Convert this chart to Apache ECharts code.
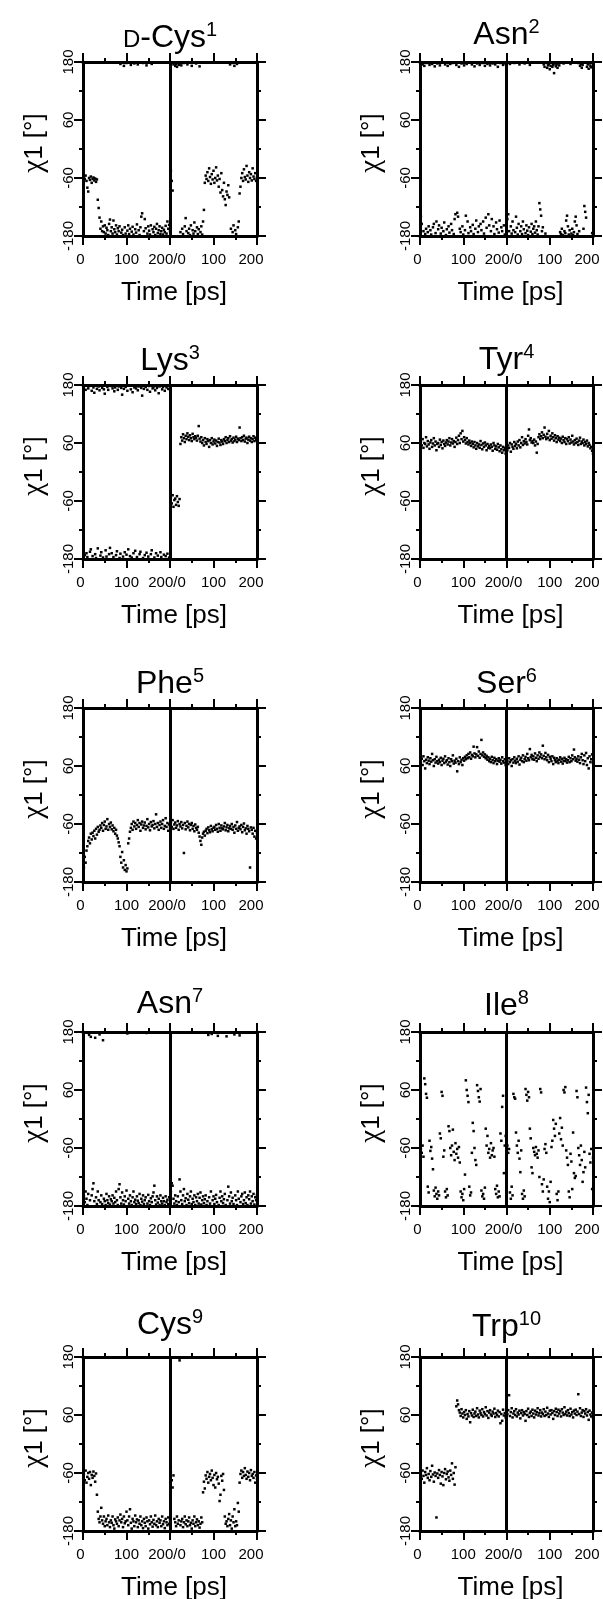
<!DOCTYPE html>
<html><head><meta charset="utf-8">
<script src="https://cdn.jsdelivr.net/npm/echarts@6/dist/echarts.min.js"></script>
<style>html,body{margin:0;padding:0;background:#fff}#chart{width:603px;height:1599px}</style>
</head><body><div id="chart"></div>
<script>
// ---------- data: chi1 dihedral (deg) sampled every 2 ps, two 200 ps runs per residue ----------
const timeStep = 2;
const runLength = 200;
const segmentBoundary = 200;
const xTickLabels = ['0', '100', '200/0', '100', '200'];
const residueNames = ['D-Cys', 'Asn', 'Lys', 'Tyr', 'Phe', 'Ser', 'Asn', 'Ile', 'Cys', 'Trp'];
const residueNumbers = ['1', '2', '3', '4', '5', '6', '7', '8', '9', '10'];

const dCys1_run1 = [-58,-62,-55,-66,-80,-88,-60,-64,-57,-70,-62,-59,-65,-61,-68,-63,-105,-122,-142,
-165,-150,-170,-160,-172,-158,-175,-163,-168,-178,-155,-146,-170,-162,-175,-148,-166,-172,-158,-177,
-164,-170,-160,176,-173,-167,-178,172,-162,-175,178,-169,-158,-176,-165,174,-171,-161,-177,177,
-166,-173,-156,175,-168,-178,-162,-140,-133,178,-170,-145,-164,173,-175,-160,-169,-177,-158,176,
-166,-172,-161,-178,-165,-155,-174,-168,-160,-176,-170,-163,-177,-167,-172,-159,-175,-150,-165,-157,-170];
const dCys1_run2 = [-45,-66,-86,175,178,172,176,170,179,174,177,-172,173,-165,-176,178,-160,-143,-170,175,
-174,-165,-178,-158,172,-168,-175,-152,-170,177,-162,-176,-166,171,-172,-160,-177,-150,-126,-70,
-55,-62,-48,-66,-40,-58,-72,-52,-63,-45,-70,-60,-38,-65,-55,-78,-62,-90,-50,-85,
-98,-70,-104,-116,-88,-95,-75,-100,175,-165,178,-172,-158,172,-168,-176,176,-162,-150,-92,
-78,-60,-50,-66,-42,-58,-63,-35,-55,-68,-48,-60,-52,-65,-40,-57,-62,-50,-66,-58];

const asn2_run1 = [-140,-155,175,-170,172,-176,-165,178,-172,-160,174,-168,-177,176,-162,-155,171,-174,-150,177,
-166,-158,173,-175,-163,179,-170,-152,175,-178,-166,172,-160,-173,176,-155,-168,178,-176,-145,
-135,174,-132,-140,170,-165,-172,177,-160,-177,173,-168,-138,176,-150,-174,179,-162,-170,175,
-157,-176,171,-165,-148,177,-172,-160,174,-155,-168,178,-150,-175,172,-142,-163,176,-135,-158,
173,-170,-145,177,-160,-176,175,-152,-166,170,-173,-148,178,-162,-170,174,-158,-177,176,-165];
const asn2_run2 = [-145,-135,-170,176,-160,-175,-150,-168,178,-172,-140,-163,-177,-155,175,-170,-160,-176,-150,-166,
177,-174,-158,-169,-178,-162,174,-171,-155,-176,-165,-160,-173,-150,-168,-177,-160,-112,-125,-138,
-170,-162,175,170,-175,178,168,173,176,165,172,179,170,174,157,177,171,175,168,178,
173,-172,-176,-165,-178,177,-170,-174,-148,-138,-160,-177,-168,176,-175,-165,-178,-172,-150,-140,
-158,-176,178,-170,172,176,168,174,-165,-118,-130,-142,170,175,166,177,172,169,-174,175];

const lys3_run1 = [176,-172,170,-168,-176,173,178,-165,-160,168,-174,175,164,-170,-178,172,-158,177,169,-173,
-166,174,-177,171,162,-162,-175,176,170,-170,-157,178,-168,173,-176,167,175,-172,-164,170,
177,-178,-169,174,160,-175,172,-166,176,-171,168,-160,179,-174,171,-177,165,-168,175,-163,
173,-176,169,177,-170,-165,174,158,-178,172,-172,176,-167,170,-175,178,166,-170,-162,173,
175,-177,169,-168,174,-173,163,177,-166,-176,171,176,-171,168,-174,175,-169,172,-177,170];
const lys3_run2 = [-52,-65,-48,-72,-58,-55,-68,-50,-62,-70,-56,58,72,65,78,70,62,75,68,80,
73,66,76,70,64,79,72,68,74,71,65,75,95,69,63,72,60,66,55,70,
62,58,68,64,52,66,60,70,57,63,67,59,65,54,62,69,61,56,66,63,
58,68,64,72,60,66,70,62,74,65,68,61,71,64,67,73,62,69,66,92,
70,64,72,66,75,63,69,71,60,67,73,65,70,62,68,74,64,71,66,69];

const tyr4_run1 = [62,55,68,50,60,58,72,53,64,57,48,61,66,52,59,70,55,63,45,58,
60,52,67,56,62,49,65,58,54,61,66,57,63,70,55,61,68,59,64,52,
62,71,58,66,75,60,80,68,85,63,72,66,59,70,62,57,65,60,54,63,
58,51,62,55,48,60,53,57,50,64,56,47,59,52,61,55,45,58,50,54,
49,57,52,44,60,55,48,53,46,58,51,43,55,47,40,52,45,50,38,48];
const tyr4_run2 = [45,55,50,60,42,57,52,48,62,54,58,49,63,55,66,51,60,72,56,64,
59,68,62,57,75,88,66,70,61,64,60,67,55,63,40,58,72,78,68,74,
82,70,77,92,73,68,79,71,85,66,75,69,80,72,65,76,70,62,74,67,
71,64,69,60,73,66,62,70,58,68,64,72,59,67,61,75,63,57,66,60,
69,62,56,65,71,58,63,60,67,55,62,58,65,53,60,56,49,52,44,38];

const phe5_run1 = [-150,-128,-140,-115,-106,-95,-88,-100,-80,-92,-78,-85,-74,-90,-70,-82,-66,-76,-72,-63,
-68,-58,-74,-62,-55,-70,-65,-50,-72,-60,-66,-57,-71,-63,-75,-68,-80,-72,-84,-90,
-98,-106,-128,-140,-118,-150,-135,-155,-145,-158,-152,-100,-90,-76,-68,-60,-72,-55,-65,-58,
-70,-62,-52,-66,-58,-74,-61,-55,-68,-63,-57,-71,-64,-50,-67,-60,-73,-56,-65,-62,
-54,-69,-60,-40,-66,-58,-72,-62,-55,-68,-60,-52,-70,-64,-48,-66,-58,-74,-61,-67];
const phe5_run2 = [-58,-66,-52,-70,-61,-57,-68,-63,-54,-72,-60,-65,-56,-69,-62,-120,-58,-71,-64,-55,
-67,-60,-73,-62,-58,-70,-64,-75,-61,-68,-72,-66,-78,-86,-95,-103,-88,-80,-76,-84,
-74,-70,-79,-67,-73,-77,-64,-71,-75,-68,-66,-72,-62,-70,-76,-60,-68,-74,-63,-69,
-71,-65,-58,-73,-67,-62,-75,-69,-64,-70,-60,-72,-66,-78,-63,-70,-56,-74,-68,-65,
-71,-62,-77,-66,-59,-73,-69,-80,-64,-70,-75,-150,-67,-72,-80,-68,-86,-74,-90,-78];

const ser6_run1 = [68,75,62,80,70,55,73,66,78,71,64,76,69,85,72,60,74,67,79,70,
65,73,68,77,62,71,75,66,80,69,72,63,76,68,60,74,70,82,65,71,
67,75,49,70,64,78,68,73,62,76,71,79,74,82,76,85,78,88,75,83,
80,100,86,78,84,99,81,90,77,85,114,82,88,79,84,76,81,73,78,70,
75,68,79,72,66,77,70,74,64,71,76,69,73,65,78,70,67,74,62,72];
const ser6_run2 = [70,64,76,68,72,60,74,67,78,71,66,75,69,80,63,73,77,70,82,68,
74,79,71,85,76,72,95,78,83,74,80,73,86,77,70,82,75,88,79,84,
76,102,81,74,87,78,72,83,68,79,75,70,80,64,77,72,68,76,71,66,
73,78,69,75,65,71,77,70,74,67,72,79,68,76,70,82,74,94,78,71,
75,69,80,73,66,78,85,72,64,82,70,87,62,76,55,80,68,74,84,66];

const asn7_run1 = [-160,-172,-150,-165,-178,-155,174,-168,170,-158,-145,-133,-170,168,-162,-176,-150,-168,175,-172,
-158,-176,163,-165,-170,-178,-155,-168,-174,-160,-177,-166,-170,-158,-175,-163,-172,-150,-168,-178,
-145,-135,-162,-175,-152,-168,-177,-160,-170,-148,177,-165,-175,-158,-170,-178,-162,-150,-172,-167,
-176,-160,-169,-174,-155,-178,-165,-171,-158,-176,-168,-162,178,-175,-157,-170,-178,-164,-172,-160,
-152,-138,-168,-177,-160,-173,-165,-178,-158,-170,-175,-163,-170,-178,-160,-172,-167,-176,-162,-169];
const asn7_run2 = [-150,-133,-138,-165,-175,-158,-170,-178,-160,-172,-125,-150,-168,-176,-158,-145,-170,-164,-178,-155,
-167,-174,-160,-150,-176,-165,-172,-158,-178,-162,-170,-155,-175,-163,-152,-177,-168,-160,-174,-166,
-158,-178,-170,174,-162,-175,-150,176,-168,-160,-176,-165,-157,-172,172,-178,-163,-150,-170,-160,
-174,-166,-155,-178,171,-168,-140,-160,-175,-152,-170,-163,-176,175,-158,-168,-178,-150,-165,173,
-172,-160,-155,-176,-168,-152,-174,-162,-178,-158,-166,-150,-175,-160,-170,-155,-177,-162,-168,-157];

const ile8_run1 = [-62,-70,-55,-78,84,72,52,44,-140,-152,-45,-66,-58,-82,-104,-148,-160,-142,-155,-165,
-150,-158,-30,-40,56,48,-78,-65,-150,-162,-145,-158,-15,-25,-60,-75,-55,-22,-68,-85,
-50,-72,-62,-80,-58,-90,-150,-162,-155,-168,-145,-115,80,60,48,35,-140,-158,-152,-70,
-8,-25,-60,-85,-95,70,58,45,36,62,-148,-160,-155,-165,-142,-20,-55,-35,-70,-62,
-80,-50,-75,-65,-60,-78,-145,-155,-138,-162,-150,-160,-30,-45,25,48,-112,-55,-35,-70];
const ile8_run2 = [-55,-70,-62,-152,-165,-140,-158,52,45,42,-28,-55,-70,-45,-82,-110,-65,-155,-165,-148,
-160,62,50,38,56,45,-20,-40,-100,-112,-60,-68,-75,-58,-72,-80,-65,-120,62,55,
-135,-150,-125,-62,-52,-70,-140,-165,-150,-172,-130,-58,-45,-2,-20,-35,-10,-155,-168,-150,
-30,2,-42,-18,-55,60,55,66,-65,-80,-95,-150,-162,-72,-88,-145,-28,-112,-122,-118,
58,45,-60,-75,-95,-55,-85,-130,-110,-68,-100,65,35,12,50,-72,-90,-62,-145,-80];

const cys9_run1 = [-62,-75,-55,-80,-68,-60,-72,-58,-85,-64,-70,-57,-66,-78,-61,-105,-140,-155,-162,-150,
-132,-158,-165,-150,-170,-160,-155,-168,-148,-162,-172,-158,-163,-150,-168,-175,-156,-160,-165,-152,
-170,-158,-146,-162,-155,-172,-150,-164,-160,-140,-158,-168,-150,-135,-163,-175,-155,-160,-170,-148,
-162,-156,-172,-158,-165,-150,-168,-160,-174,-155,-163,-170,-152,-160,-175,-158,-166,-150,-162,-171,
-157,-165,-148,-168,-160,-172,-155,-163,-158,-170,-150,-166,-160,-174,-155,-162,-168,-152,-165,-158];
const cys9_run2 = [-58,-75,-90,-65,-155,-162,-170,-150,-165,-158,173,-168,-160,-155,-172,-162,-150,-166,-158,-170,
-160,-152,-168,-163,-175,-158,-165,-150,-170,-162,-156,-168,-160,-173,-165,-152,-162,-100,-78,-92,
-65,-72,-58,-80,-68,-62,-75,-55,-70,-85,-64,-90,-60,-73,-68,-82,-118,-105,-66,-76,
-62,-95,-150,-165,-160,-170,-155,-145,-168,-158,-175,-150,-162,-135,-170,-160,-168,-122,-140,-80,
-62,-55,-70,-58,-66,-50,-64,-72,-57,-68,-60,-75,-54,-66,-62,-70,-58,-80,-65,-72];

const trp10_run1 = [-60,-72,-55,-66,-80,-58,-64,-50,-70,-62,-75,-56,-68,-45,-63,-78,-59,-66,-152,-61,
-70,-54,-64,-82,-58,-67,-85,-60,-52,-73,-62,-57,-69,-76,-55,-64,-40,-72,-60,-84,
-48,78,90,82,70,65,58,72,63,55,66,60,70,52,62,57,68,45,64,59,
71,56,63,67,58,74,61,55,69,64,60,72,57,66,62,76,59,68,54,65,
70,61,58,67,63,73,56,64,60,69,57,66,43,62,48,71,59,64,55,68];
const trp10_run2 = [62,70,101,58,66,74,55,63,68,60,72,57,65,61,69,53,64,70,59,66,
62,48,68,60,73,56,64,67,58,71,63,55,69,61,66,74,59,64,70,57,
65,62,72,58,67,60,75,63,56,69,61,70,64,52,68,60,73,66,58,71,
63,68,57,72,65,60,76,62,67,59,70,64,58,73,61,66,55,69,63,71,
60,67,103,62,74,58,65,70,56,68,63,72,59,66,50,69,61,57,65,54];

const runs = [
  [dCys1_run1, dCys1_run2], [asn2_run1, asn2_run2], [lys3_run1, lys3_run2], [tyr4_run1, tyr4_run2],
  [phe5_run1, phe5_run2], [ser6_run1, ser6_run2], [asn7_run1, asn7_run2], [ile8_run1, ile8_run2],
  [cys9_run1, cys9_run2], [trp10_run1, trp10_run2]
];

// ---------- fonts ----------
function fontAvailable(f) {
  const ctx = document.createElement('canvas').getContext('2d');
  const probe = 'Time [ps] 0123456789 abcdefghijklm';
  ctx.font = '40px monospace';
  const a = ctx.measureText(probe).width;
  ctx.font = '40px "' + f + '", monospace';
  const b = ctx.measureText(probe).width;
  return Math.abs(a - b) > 0.5;
}
const FONT = '"Liberation Sans", Arial, Helvetica, sans-serif';
const SERIF = '"Liberation Serif", "DejaVu Serif", serif';
const narrowName = ['Liberation Sans Narrow', 'Arial Narrow', 'Nimbus Sans Narrow'].find(fontAvailable);
const AXFONT = narrowName ? '"' + narrowName + '", ' + FONT : FONT;
const tickSize = narrowName ? 16 : 15;
const nameSize = narrowName ? 29 : 26;

// ---------- layout & style ----------
const black = '#000';
const colLeft = [83, 420], colWidth = [174, 173];
const rowTop = [62, 385, 708, 1032, 1357];
const titleGap = [[15, 18], [15, 16], [15, 15], [19, 17], [23, 21]];
const plotH = 174;

function buildPoints(run1, run2) {
  const pts = [];
  run1.forEach((y, i) => pts.push([(i + 1) * timeStep, y]));
  run2.forEach((y, i) => pts.push([runLength + (i + 1) * timeStep, y]));
  return pts;
}

const axisLine = { show: true, onZero: false, lineStyle: { color: black, width: 3 } };
const majorTick = { show: true, inside: false, length: 9, lineStyle: { color: black, width: 2 } };
const minorTick = { show: true, splitNumber: 2, length: 4, lineStyle: { color: black, width: 2 } };
const tickRich = function (padRight) {
  return { fontSize: tickSize, fontFamily: AXFONT, color: black, padding: [0, padRight, 0, 0] };
};

const grids = [], xAxes = [], yAxes = [], series = [], graphics = [];

residueNames.forEach((name, k) => {
  const col = k % 2, row = Math.floor(k / 2);
  const left = colLeft[col], top = rowTop[row], w = colWidth[col];
  grids.push({ left: left, top: top, width: w, height: plotH, containLabel: false, outerBoundsMode: 'none' });

  xAxes.push({
    gridIndex: k, type: 'value', position: 'bottom', min: 0, max: 400, interval: 100,
    axisLine: axisLine, axisTick: majorTick, minorTick: minorTick,
    splitLine: { show: false }, minorSplitLine: { show: false },
    axisLabel: {
      show: true, margin: 16, color: black, fontSize: tickSize, fontFamily: AXFONT,
      formatter: function (v) {
        const s = xTickLabels[Math.round(v / 100)];
        if (v === 400) return '{e|' + s + '}';
        if (v === 200) return '{m|' + s + '}';
        if (v === 0) return '{z|' + s + '}';
        return s;
      },
      rich: { e: tickRich(12), m: tickRich(6), z: tickRich(5) }
    },
    name: '{t|Time [ps]}', nameLocation: 'middle', nameGap: 44, nameMoveOverlap: false,
    nameTextStyle: { color: black, fontSize: nameSize, fontFamily: AXFONT,
      rich: { t: { color: black, fontSize: nameSize, fontFamily: AXFONT, padding: [0, 0, 0, 8] } } }
  });
  xAxes.push({
    gridIndex: k, type: 'value', position: 'top', min: 0, max: 400, interval: 100,
    axisLine: axisLine, axisTick: majorTick, minorTick: minorTick,
    splitLine: { show: false }, minorSplitLine: { show: false }, axisLabel: { show: false }
  });

  yAxes.push({
    gridIndex: k, type: 'value', position: 'left', min: -180, max: 180, interval: 120,
    axisLine: axisLine, axisTick: majorTick, minorTick: minorTick,
    splitLine: { show: false }, minorSplitLine: { show: false },
    axisLabel: { show: true, rotate: 90, margin: 7, color: black, fontSize: tickSize, fontFamily: AXFONT },
    name: '{c|χ}{n|1 [°]}', nameLocation: 'middle', nameRotate: 90, nameGap: 34, nameMoveOverlap: false,
    nameTextStyle: { color: black, fontSize: nameSize, fontFamily: AXFONT,
      rich: {
        c: { fontFamily: SERIF, fontSize: nameSize + 3, color: black, padding: [0, 0, 0, 12] },
        n: { fontFamily: AXFONT, fontSize: nameSize, color: black }
      } }
  });
  yAxes.push({
    gridIndex: k, type: 'value', position: 'right', min: -180, max: 180, interval: 120,
    axisLine: axisLine, axisTick: majorTick, minorTick: minorTick,
    splitLine: { show: false }, minorSplitLine: { show: false }, axisLabel: { show: false }
  });

  series.push({
    type: 'scatter', xAxisIndex: 2 * k, yAxisIndex: 2 * k,
    data: buildPoints(runs[k][0], runs[k][1]),
    symbol: 'rect', symbolSize: 2.5, itemStyle: { color: black, opacity: 1 },
    silent: true, clip: true,
    markLine: {
      silent: true, symbol: ['none', 'none'], label: { show: false },
      lineStyle: { color: black, width: 3, type: 'solid' },
      emphasis: { disabled: true },
      data: [{ xAxis: segmentBoundary }]
    }
  });

  let titleText;
  if (name.indexOf('D-') === 0) {
    titleText = '{sc|D}{m|' + name.slice(1) + '}{s|' + residueNumbers[k] + '}';
  } else {
    titleText = '{m|' + name + '}{s|' + residueNumbers[k] + '}';
  }
  graphics.push({
    type: 'text', x: left + w / 2, y: top - titleGap[row][col] + 7, silent: true,
    style: {
      text: titleText, align: 'center', verticalAlign: 'bottom',
      fontFamily: FONT, fontSize: 32, fill: black,
      rich: {
        m: { fontFamily: FONT, fontSize: 32, lineHeight: 34, fill: black, verticalAlign: 'bottom' },
        sc: { fontFamily: FONT, fontSize: 24, lineHeight: 24, fill: black, verticalAlign: 'bottom', padding: [0, 0, 2, 0] },
        s: { fontFamily: FONT, fontSize: 20, lineHeight: 20, fill: black, verticalAlign: 'top' }
      }
    }
  });
});

const chart = echarts.init(document.getElementById('chart'), null, { renderer: 'canvas' });
chart.setOption({
  animation: false,
  backgroundColor: '#fff',
  grid: grids,
  xAxis: xAxes,
  yAxis: yAxes,
  series: series,
  graphic: graphics
});
</script>
</body></html>
